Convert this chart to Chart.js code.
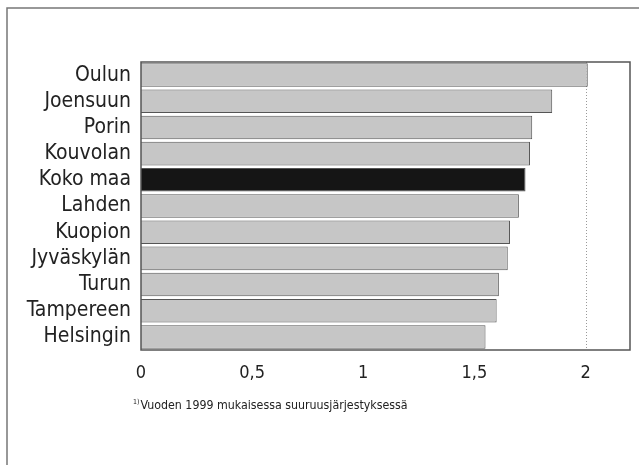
<!DOCTYPE html>
<html>
<head>
<meta charset="utf-8">
<script src="https://cdn.jsdelivr.net/npm/chart.js@4/dist/chart.umd.min.js"></script>
<style>
  body { margin: 0; background: #fff; }
  #wrap { position: relative; width: 639px; height: 465px; }
  #nota {
    position: absolute; left: 133px; top: 398px;
    font-family: "Liberation Sans Narrow", "DejaVu Sans Condensed", sans-serif;
    font-size: 12.3px; color: #222; white-space: nowrap;
  }
  #nota sup { font-size: 7px; vertical-align: 5px; margin-right: 1px; }
</style>
</head>
<body>
<div id="wrap">
  <canvas id="grafica" width="639" height="465"></canvas>
  <div id="nota"><sup>1)</sup>Vuoden 1999 mukaisessa suuruusjärjestyksessä</div>
</div>
<script>
var kaupungit = ["Oulun", "Joensuun", "Porin", "Kouvolan", "Koko maa", "Lahden", "Kuopion", "Jyväskylän", "Turun", "Tampereen", "Helsingin"]
var arvot = [2.01, 1.85, 1.76, 1.75, 1.73, 1.70, 1.66, 1.65, 1.61, 1.60, 1.55]
var tikit = [0, 0.5, 1, 1.5, 2]

var fontti = "'Liberation Sans Narrow', 'DejaVu Sans Condensed', sans-serif"

var varit = []
for (let i = 0; i < kaupungit.length; i++) {
    varit.push(kaupungit[i] == "Koko maa" ? "#151515" : "#c6c6c6")
}

var kehys = {
    id: 'kehys',
    beforeDraw: function (chart) {
        var c = chart.ctx
        c.save()
        c.strokeStyle = "#777"
        c.lineWidth = 1.5
        c.beginPath()
        c.moveTo(7, 465)
        c.lineTo(7, 8)
        c.lineTo(639, 8)
        c.stroke()
        c.restore()
    },
    afterDraw: function (chart) {
        var a = chart.chartArea
        var c = chart.ctx
        c.save()
        c.strokeStyle = "#555"
        c.lineWidth = 1.5
        c.strokeRect(a.left, a.top, a.right - a.left, a.bottom - a.top)
        c.restore()
    }
}

var ctx = document.getElementById('grafica').getContext('2d');

new Chart(ctx, {
    type: 'bar',
    data: {
        labels: kaupungit,
        datasets: [{
            data: arvot,
            backgroundColor: varit,
            borderColor: "#555",
            borderWidth: 1,
            categoryPercentage: 1,
            barPercentage: 0.9
        }]
    },
    options: {
        indexAxis: 'y',
        responsive: false,
        animation: false,
        layout: { padding: { left: 0, right: 9, top: 62, bottom: 75 } },
        plugins: { legend: { display: false }, tooltip: { enabled: false } },
        scales: {
            x: {
                min: 0,
                max: 2.2,
                afterFit: function (s) { s.height = 40 },
                afterBuildTicks: function (s) {
                    s.ticks = tikit.map(function (v) { return { value: v } })
                },
                border: { display: false },
                grid: { display: false, drawTicks: false },
                ticks: {
                    padding: 13,
                    color: "#222",
                    font: { family: fontti, size: 18 },
                    callback: function (v) { return String(v).replace('.', ',') }
                }
            },
            y: {
                afterFit: function (s) { s.width = 141 },
                border: { display: false },
                grid: { display: false, drawTicks: false },
                ticks: {
                    autoSkip: false,
                    padding: 10,
                    color: "#222",
                    font: { family: fontti, size: 21 }
                }
            }
        }
    },
    plugins: [kehys, {
        id: 'pisteviiva',
        beforeDatasetsDraw: function (chart) {
            var s = chart.scales.x
            var a = chart.chartArea
            var x = Math.round(s.getPixelForValue(2)) + 0.5
            var c = chart.ctx
            c.save()
            c.strokeStyle = "#999"
            c.lineWidth = 1
            c.setLineDash([1, 2])
            c.beginPath()
            c.moveTo(x, a.top)
            c.lineTo(x, a.bottom)
            c.stroke()
            c.restore()
        }
    }]
});
</script>
</body>
</html>
